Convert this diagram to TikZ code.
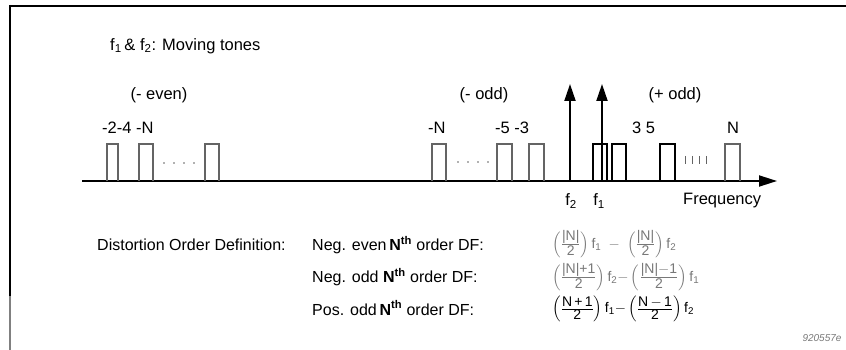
\documentclass[tikz,border=0pt]{standalone}
\usepackage{amsmath}
\usepackage{fontspec}
\setmainfont{Liberation Sans}
\usetikzlibrary{arrows.meta}
\definecolor{pgray}{RGB}{100,100,100}
\definecolor{fgray}{RGB}{120,120,120}
\newcommand\mypulse[3]{\draw[#3] (#1,181) -- (#1,144) -- (#2,144) -- (#2,181);}
\newcommand\tx[1]{\text{#1}}
\newcommand\fr[2]{\frac{\mbox{#1}}{\mbox{#2}}}
\begin{document}
\begin{tikzpicture}[x=1pt,y=-1pt,
  lbl/.style={inner sep=0pt, font=\fontsize{16.5}{18}\selectfont},
  small/.style={inner sep=0pt, font=\fontsize{16}{18}\selectfont},
  formula/.style={inner sep=0pt, font=\fontsize{14}{16}\selectfont},
  pulseg/.style={draw=pgray, line width=1.4pt},
  pulsek/.style={draw=black, line width=1.4pt},
  tone/.style={line width=2pt, -{Triangle[length=17pt,width=11pt]}},
  axisline/.style={line width=1.8pt, -{Triangle[length=18pt,width=11pt]}}]
\useasboundingbox (0,0) rectangle (846,350);
% frame
\draw[line width=2.5pt] (10,6) -- (846,6);
\draw[line width=1.6pt] (10,5) -- (10,296);
\draw[line width=1.6pt, gray] (10,296) -- (10,350);
% axis
\coordinate (ax0) at (82,181);
\coordinate (ax1) at (777,181);
\draw[axisline] (ax0) -- (ax1);
% negative even pulses
\mypulse{107}{118}{pulseg}
\mypulse{139}{153}{pulseg}
\mypulse{205}{219}{pulseg}
\foreach \x in {164,174,184,194} \fill[pgray] (\x,163) circle (0.9);
% negative odd pulses
\mypulse{432}{446}{pulseg}
\mypulse{497}{512}{pulseg}
\mypulse{529}{544}{pulseg}
\foreach \x in {458,468,478,488} \fill[pgray] (\x,162) circle (0.9);
% positive odd pulses
\mypulse{593}{607}{pulsek}
\mypulse{612}{626}{pulsek}
\mypulse{660}{675}{pulsek}
\foreach \x in {685,692,699,706} \draw[pgray, line width=1pt] (\x,156) -- (\x,164);
\mypulse{725}{740}{pulseg}
% tones
\coordinate (f2b) at (570,181);
\coordinate (f2t) at (570,84);
\coordinate (f1b) at (602,181);
\coordinate (f1t) at (602,84);
\draw[tone] (f2b) -- (f2t);
\draw[tone] (f1b) -- (f1t);
% labels
\node[lbl, anchor=west] (title) at (110,46) {f\textsubscript{1}\,\& f\textsubscript{2}: Moving tones};
\node[lbl] (neven) at (159,95) {(- even)};
\node[lbl, anchor=west] (nevenn) at (102,128) {-2-4 -N};
\node[lbl] (nodd) at (484,95) {(- odd)};
\node[lbl, anchor=west] (noddN) at (428,128) {-N};
\node[lbl, anchor=west] (nodd53) at (495,128) {-5 -3};
\node[lbl] (podd) at (675,95) {(+ odd)};
\node[lbl, anchor=west] (podd35) at (632,128) {3 5};
\node[lbl] (poddN) at (733,128) {N};
\node[lbl] (f2) at (571,201) {f\textsubscript{2}};
\node[lbl] (f1) at (599,201) {f\textsubscript{1}};
\node[lbl, anchor=west] (freq) at (683,201) {Frequency};
% definitions
\node[small, anchor=west] (def) at (97,245) {Distortion Order Definition:};
\node[small, anchor=west] (d1) at (312,245) {Neg. even\,\textbf{N}\textsuperscript{\textbf{th}} order DF:};
\node[small, anchor=west] (d2) at (312,277) {Neg. odd \textbf{N}\textsuperscript{\textbf{th}} order DF:};
\node[small, anchor=west] (d3) at (312,308) {Pos. odd\,\textbf{N}\textsuperscript{\textbf{th}} order DF:};
\node[formula, anchor=west, text=fgray] (e1) at (552,244) {$\left(\fr{|N|}{2}\right)\tx{f}_{\tx{1}}\;-\;\left(\fr{|N|}{2}\right)\tx{f}_{\tx{2}}$};
\node[formula, anchor=west, text=fgray] (e2) at (552,277) {$\left(\fr{|N|+1}{2}\right)\tx{f}_{\tx{2}}{-}\left(\fr{|N|$-$1}{2}\right)\tx{f}_{\tx{1}}$};
\node[formula, anchor=west] (e3) at (552,309) {$\left(\fr{N\,+\,1}{2}\right)\tx{f}_{\tx{1}}{-}\left(\fr{N\,$-$\,1}{2}\right)\tx{f}_{\tx{2}}$};
\node[inner sep=0pt, font=\fontsize{10}{12}\selectfont\itshape, text=fgray] (code) at (822,338) {920557e};
\end{tikzpicture}
\end{document}
